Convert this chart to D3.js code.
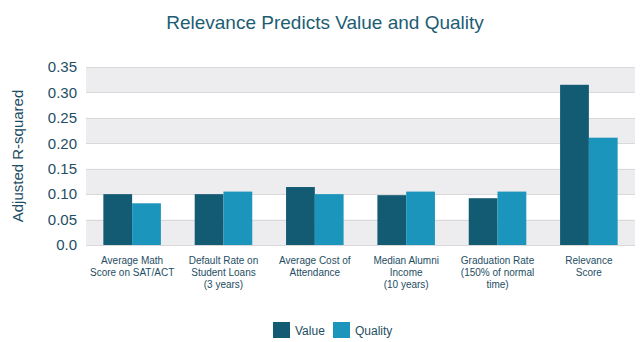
<!DOCTYPE html>
<html>
<head>
<meta charset="utf-8">
<script src="https://cdn.jsdelivr.net/npm/d3@7"></script>
<style>
  body { margin: 0; background: #fff; }
  svg text { font-family: "Liberation Sans", Arial, sans-serif; }
</style>
</head>
<body>
<div id="chart-area"></div>
<script>
const categories = [
    ['Average Math', 'Score on SAT/ACT'],
    ['Default Rate on', 'Student Loans', '(3 years)'],
    ['Average Cost of', 'Attendance'],
    ['Median Alumni', 'Income', '(10 years)'],
    ['Graduation Rate', '(150% of normal', 'time)'],
    ['Relevance', 'Score']
];
const seriesNames = ['Value', 'Quality'];
const valueData = [0.100, 0.100, 0.114, 0.098, 0.092, 0.315];
const qualityData = [0.082, 0.105, 0.100, 0.105, 0.105, 0.211];
const yTicks = [0, 0.05, 0.10, 0.15, 0.20, 0.25, 0.30, 0.35];
const colors = ['#135a73', '#1b95bb'];

const W = 644, H = 342;
const margin = {left: 86, right: 9, top: 67, bottom: 97};
const width = W - margin.left - margin.right;
const height = H - margin.top - margin.bottom;

const svg = d3.select('#chart-area')
    .append('svg')
    .attr('width', W)
    .attr('height', H);

const g = svg.append('g')
    .attr('transform', `translate(${margin.left}, ${margin.top})`);

const y = d3.scaleLinear()
    .domain([0, 0.35])
    .range([height, 0]);

const x = d3.scaleBand()
    .domain(d3.range(categories.length))
    .range([0, width])
    .paddingInner(0.37)
    .paddingOuter(0.19);

const xs = d3.scaleBand()
    .domain(seriesNames)
    .range([0, x.bandwidth()]);

// alternating grey bands
const bands = [[0, 0.05], [0.10, 0.15], [0.20, 0.25], [0.30, 0.35]];
g.selectAll('.band')
    .data(bands)
    .enter()
    .append('rect')
    .attr('x', 0)
    .attr('width', width)
    .attr('y', d => y(d[1]))
    .attr('height', d => y(d[0]) - y(d[1]))
    .attr('fill', '#ededef');

g.selectAll('.grid')
    .data(yTicks)
    .enter()
    .append('line')
    .attr('x1', 0)
    .attr('x2', width)
    .attr('y1', d => Math.round(y(d)) + 0.5)
    .attr('y2', d => Math.round(y(d)) + 0.5)
    .attr('stroke', '#d9d9db')
    .attr('stroke-width', 1);

// y axis labels
const yAxisCall = d3.axisLeft(y)
    .tickValues(yTicks)
    .tickSize(0)
    .tickPadding(9)
    .tickFormat(d => d === 0 ? '0.0' : d3.format('.2f')(d));
const yAxis = g.append('g')
    .attr('class', 'y axis')
    .call(yAxisCall);
yAxis.select('.domain').remove();
yAxis.selectAll('text')
    .attr('font-size', '15px')
    .attr('fill', '#1e4e63');

// bars
const rows = categories.map((c, i) => ({i, vals: [valueData[i], qualityData[i]]}));
const groups = g.selectAll('.grp')
    .data(rows)
    .enter()
    .append('g')
    .attr('transform', d => `translate(${x(d.i)}, 0)`);

groups.selectAll('rect')
    .data(d => d.vals.map((v, k) => ({name: seriesNames[k], v, k})))
    .enter()
    .append('rect')
    .attr('x', d => xs(d.name))
    .attr('width', xs.bandwidth())
    .attr('y', d => y(d.v))
    .attr('height', d => height - y(d.v))
    .attr('fill', d => colors[d.k]);

// category labels
const labels = g.selectAll('.cat')
    .data(categories)
    .enter()
    .append('text')
    .attr('text-anchor', 'middle')
    .attr('font-size', '10px')
    .attr('fill', '#1e4e63')
    .attr('x', (d, i) => x(i) + x.bandwidth() / 2)
    .attr('y', height + 19);
labels.selectAll('tspan')
    .data(d => d)
    .enter()
    .append('tspan')
    .attr('x', function () { return this.parentNode.getAttribute('x'); })
    .attr('dy', (d, i) => i === 0 ? 0 : 12)
    .text(d => d);

// title
svg.append('text')
    .attr('x', 325)
    .attr('y', 29)
    .attr('text-anchor', 'middle')
    .attr('font-size', '19px')
    .attr('fill', '#1d5d74')
    .text('Relevance Predicts Value and Quality');

// y label
svg.append('text')
    .attr('transform', `translate(23, ${margin.top + height / 2}) rotate(-90)`)
    .attr('text-anchor', 'middle')
    .attr('font-size', '15px')
    .attr('fill', '#1e4e63')
    .text('Adjusted R-squared');

// legend
const legendX = [273, 333];
const legend = svg.selectAll('.legend')
    .data(seriesNames)
    .enter()
    .append('g')
    .attr('transform', (d, i) => `translate(${legendX[i]}, 322)`);
legend.append('rect')
    .attr('width', 17)
    .attr('height', 16)
    .attr('fill', (d, i) => colors[i]);
legend.append('text')
    .attr('x', 22)
    .attr('y', 13)
    .attr('font-size', '12px')
    .attr('fill', '#1e4e63')
    .text(d => d);
</script>
</body>
</html>
